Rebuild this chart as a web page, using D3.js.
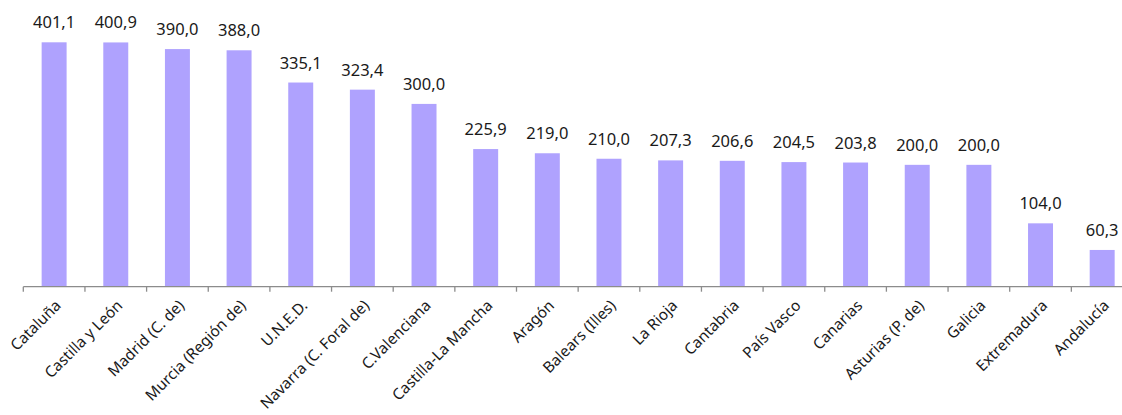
<!DOCTYPE html>
<html>
<head>
<meta charset="utf-8">
<script src="https://cdn.jsdelivr.net/npm/d3@7"></script>
<style>
  html, body { margin: 0; padding: 0; background: #fff; }
  svg text { font-family: "Noto Sans", "Open Sans", sans-serif; fill: #1a1a1a; }
</style>
</head>
<body>
<svg id="chart" width="1122" height="415"></svg>
<script>
// Regions and their values, sorted from highest to lowest
const categories = [
  "Cataluña", "Castilla y León", "Madrid (C. de)", "Murcia (Región de)", "U.N.E.D.",
  "Navarra (C. Foral de)", "C.Valenciana", "Castilla-La Mancha", "Aragón", "Balears (Illes)",
  "La Rioja", "Cantabria", "País Vasco", "Canarias", "Asturias (P. de)", "Galicia",
  "Extremadura", "Andalucía"
];
const values = [
  401.1, 400.9, 390.0, 388.0, 335.1,
  323.4, 300.0, 225.9, 219.0, 210.0,
  207.3, 206.6, 204.5, 203.8, 200.0, 200.0,
  104.0, 60.3
];

const svg = d3.select("#chart");
const baseY = 286.7;
const left = 23.3;
const step = 61.65;

const x = d3.scaleBand()
  .domain(categories)
  .range([left, left + step * categories.length])
  .paddingInner(0.595)
  .paddingOuter(0.2975);

const y = d3.scaleLinear()
  .domain([0, 450])
  .range([baseY, baseY - 450 * 0.6093]);

const fmt = v => d3.format(".1f")(v).replace(".", ",");

// Bars
svg.append("g")
  .selectAll("rect")
  .data(values)
  .join("rect")
  .attr("x", (d, i) => x(categories[i]))
  .attr("y", d => y(d))
  .attr("width", x.bandwidth())
  .attr("height", d => y(0) - y(d))
  .attr("fill", "#afa2fe");

// Value labels above bars
svg.append("g")
  .selectAll("text")
  .data(values)
  .join("text")
  .attr("x", (d, i) => x(categories[i]) + x.bandwidth() / 2)
  .attr("y", d => y(d) - 14)
  .attr("text-anchor", "middle")
  .attr("font-size", 16.5)
  .text(d => fmt(d));

// Category axis: baseline and ticks at category boundaries
const axis = svg.append("g");
axis.append("line")
  .attr("x1", left).attr("x2", 1122)
  .attr("y1", baseY).attr("y2", baseY)
  .attr("stroke", "#8c8c8c").attr("stroke-width", 1.3);
axis.selectAll("line.tick")
  .data(categories)
  .join("line")
  .attr("class", "tick")
  .attr("x1", (d, i) => left + step * i)
  .attr("x2", (d, i) => left + step * i)
  .attr("y1", baseY).attr("y2", baseY + 5)
  .attr("stroke", "#8c8c8c").attr("stroke-width", 1.3);

// Rotated category labels
axis.selectAll("text")
  .data(categories)
  .join("text")
  .attr("transform", d => `translate(${x(d) + x.bandwidth() / 2 + 4},${baseY + 16}) rotate(-45)`)
  .attr("text-anchor", "end")
  .attr("dy", "0.35em")
  .attr("font-size", 15.3)
  .text(d => d);
</script>
</body>
</html>
